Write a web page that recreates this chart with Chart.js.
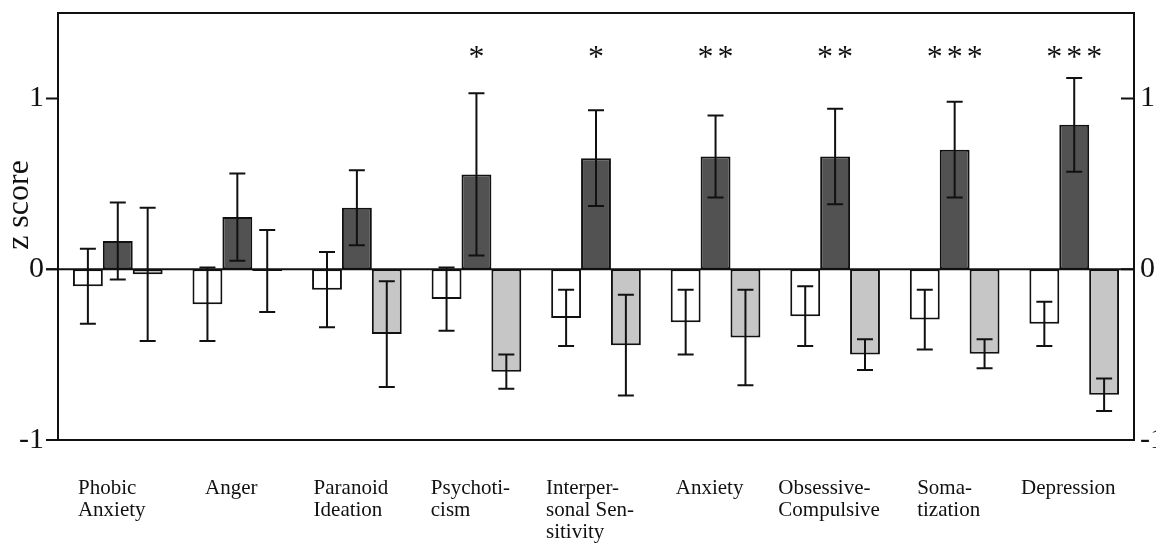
<!DOCTYPE html>
<html>
<head>
<meta charset="utf-8">
<title>z score by symptom dimension</title>
<script src="https://cdn.jsdelivr.net/npm/chart.js@4.4.1/dist/chart.umd.min.js"></script>
<style>
  html, body { margin: 0; padding: 0; background: #fff; }
  #wrap { width: 1156px; height: 544px; position: relative; }
</style>
</head>
<body>
<div id="wrap"><canvas id="chart"></canvas></div>
<script>
// data
const categories = [
  ['Phobic', 'Anxiety'],
  ['Anger'],
  ['Paranoid', 'Ideation'],
  ['Psychoti-', 'cism'],
  ['Interper-', 'sonal Sen-', 'sitivity'],
  ['Anxiety'],
  ['Obsessive-', 'Compulsive'],
  ['Soma-', 'tization'],
  ['Depression']
];

const whiteMeans = [-0.10, -0.205, -0.12, -0.175, -0.285, -0.31, -0.275, -0.295, -0.32];
const whiteErr   = [0.22, 0.215, 0.22, 0.185, 0.165, 0.19, 0.175, 0.175, 0.13];

const darkMeans  = [0.165, 0.305, 0.36, 0.555, 0.65, 0.66, 0.66, 0.70, 0.845];
const darkErr    = [0.225, 0.255, 0.22, 0.475, 0.28, 0.24, 0.28, 0.28, 0.275];

const lightMeans = [-0.03, -0.01, -0.38, -0.60, -0.445, -0.40, -0.50, -0.495, -0.735];
const lightErr   = [0.39, 0.24, 0.31, 0.10, 0.295, 0.28, 0.09, 0.085, 0.095];

const stars = ['', '', '', '*', '*', '**', '**', '***', '***'];

const yTicks = [-1, 0, 1];
const yTickLabels = ['-1', '0', '1'];

const SERIF = '"Liberation Serif", "Times New Roman", serif';
const INK = '#111';

// error bars, drawn from the y scale
const errorBars = {
  id: 'errorBars',
  afterDatasetsDraw(chart) {
    const ctx = chart.ctx;
    const y = chart.scales.y;
    const area = chart.chartArea;

    // zero line runs over the bars and out to the left tick
    ctx.save();
    ctx.strokeStyle = INK;
    ctx.lineWidth = 2;
    ctx.beginPath();
    ctx.moveTo(area.left - 12, y.getPixelForValue(0));
    ctx.lineTo(area.right, y.getPixelForValue(0));
    ctx.stroke();

    chart.data.datasets.forEach((ds, di) => {
      const meta = chart.getDatasetMeta(di);
      meta.data.forEach((bar, i) => {
        const m = ds.data[i], e = ds.err[i];
        const top = y.getPixelForValue(m + e);
        const bot = y.getPixelForValue(m - e);
        const x = bar.x;
        ctx.beginPath();
        ctx.moveTo(x, top);
        ctx.lineTo(x, bot);
        ctx.moveTo(x - 8, top);
        ctx.lineTo(x + 8, top);
        ctx.moveTo(x - 8, bot);
        ctx.lineTo(x + 8, bot);
        ctx.stroke();
      });
    });
    ctx.restore();
  }
};

// frame, ticks, labels, stars
const frame = {
  id: 'frame',
  afterDraw(chart) {
    const ctx = chart.ctx;
    const y = chart.scales.y;
    const x = chart.scales.x;
    const a = chart.chartArea;

    ctx.save();
    ctx.strokeStyle = INK;
    ctx.lineWidth = 2;
    ctx.strokeRect(a.left, a.top, a.right - a.left, a.bottom - a.top);

    // left ticks outside, right ticks inside
    ctx.beginPath();
    yTicks.forEach(v => {
      const py = y.getPixelForValue(v);
      ctx.moveTo(a.left - 12, py);
      ctx.lineTo(a.left, py);
      ctx.moveTo(a.right - 13, py);
      ctx.lineTo(a.right, py);
    });
    ctx.stroke();

    ctx.fillStyle = INK;
    ctx.font = '30px ' + SERIF;
    ctx.textBaseline = 'middle';
    yTicks.forEach((v, i) => {
      const py = y.getPixelForValue(v);
      ctx.textAlign = 'right';
      ctx.fillText(yTickLabels[i], a.left - 14, py);
      ctx.textAlign = 'left';
      ctx.fillText(yTickLabels[i], a.right + 6, py);
    });

    // y title
    ctx.save();
    ctx.translate(20, 205);
    ctx.rotate(-Math.PI / 2);
    ctx.textAlign = 'center';
    ctx.textBaseline = 'middle';
    ctx.font = '32px ' + SERIF;
    ctx.fillText('z score', 0, 0);
    ctx.restore();

    // category labels: lines left aligned, block roughly centred on the group
    ctx.font = '21px ' + SERIF;
    ctx.textAlign = 'left';
    ctx.textBaseline = 'alphabetic';
    categories.forEach((lines, i) => {
      const cx = x.getPixelForValue(i) - 6;
      const w = Math.max(...lines.map(s => ctx.measureText(s).width));
      lines.forEach((s, k) => {
        ctx.fillText(s, cx - w / 2, a.bottom + 54 + k * 22);
      });
    });

    // significance stars above the dark bars
    const dark = chart.getDatasetMeta(1);
    ctx.font = '32px ' + SERIF;
    ctx.textAlign = 'center';
    stars.forEach((s, i) => {
      const bx = dark.data[i].x;
      for (let k = 0; k < s.length; k++) {
        const off = (k - (s.length - 1) / 2) * 20;
        ctx.fillText('*', bx + off, y.getPixelForValue(1.5) + 54);
      }
    });
    ctx.restore();
  }
};

new Chart(document.getElementById('chart'), {
  type: 'bar',
  data: {
    labels: categories,
    datasets: [
      { data: whiteMeans, err: whiteErr, backgroundColor: '#ffffff' },
      { data: darkMeans, err: darkErr, backgroundColor: '#525252' },
      { data: lightMeans, err: lightErr, backgroundColor: '#c6c6c6' }
    ].map(d => Object.assign(d, {
      borderColor: INK,
      borderWidth: 2,
      borderSkipped: false,
      barPercentage: 1.0,
      categoryPercentage: 0.75
    }))
  },
  options: {
    responsive: true,
    maintainAspectRatio: false,
    animation: false,
    layout: { padding: { left: 58, right: 22, top: 13, bottom: 104 } },
    plugins: { legend: { display: false }, tooltip: { enabled: false } },
    scales: {
      x: { display: false },
      y: { display: false, min: -1, max: 1.5 }
    }
  },
  plugins: [errorBars, frame]
});
</script>
</body>
</html>
